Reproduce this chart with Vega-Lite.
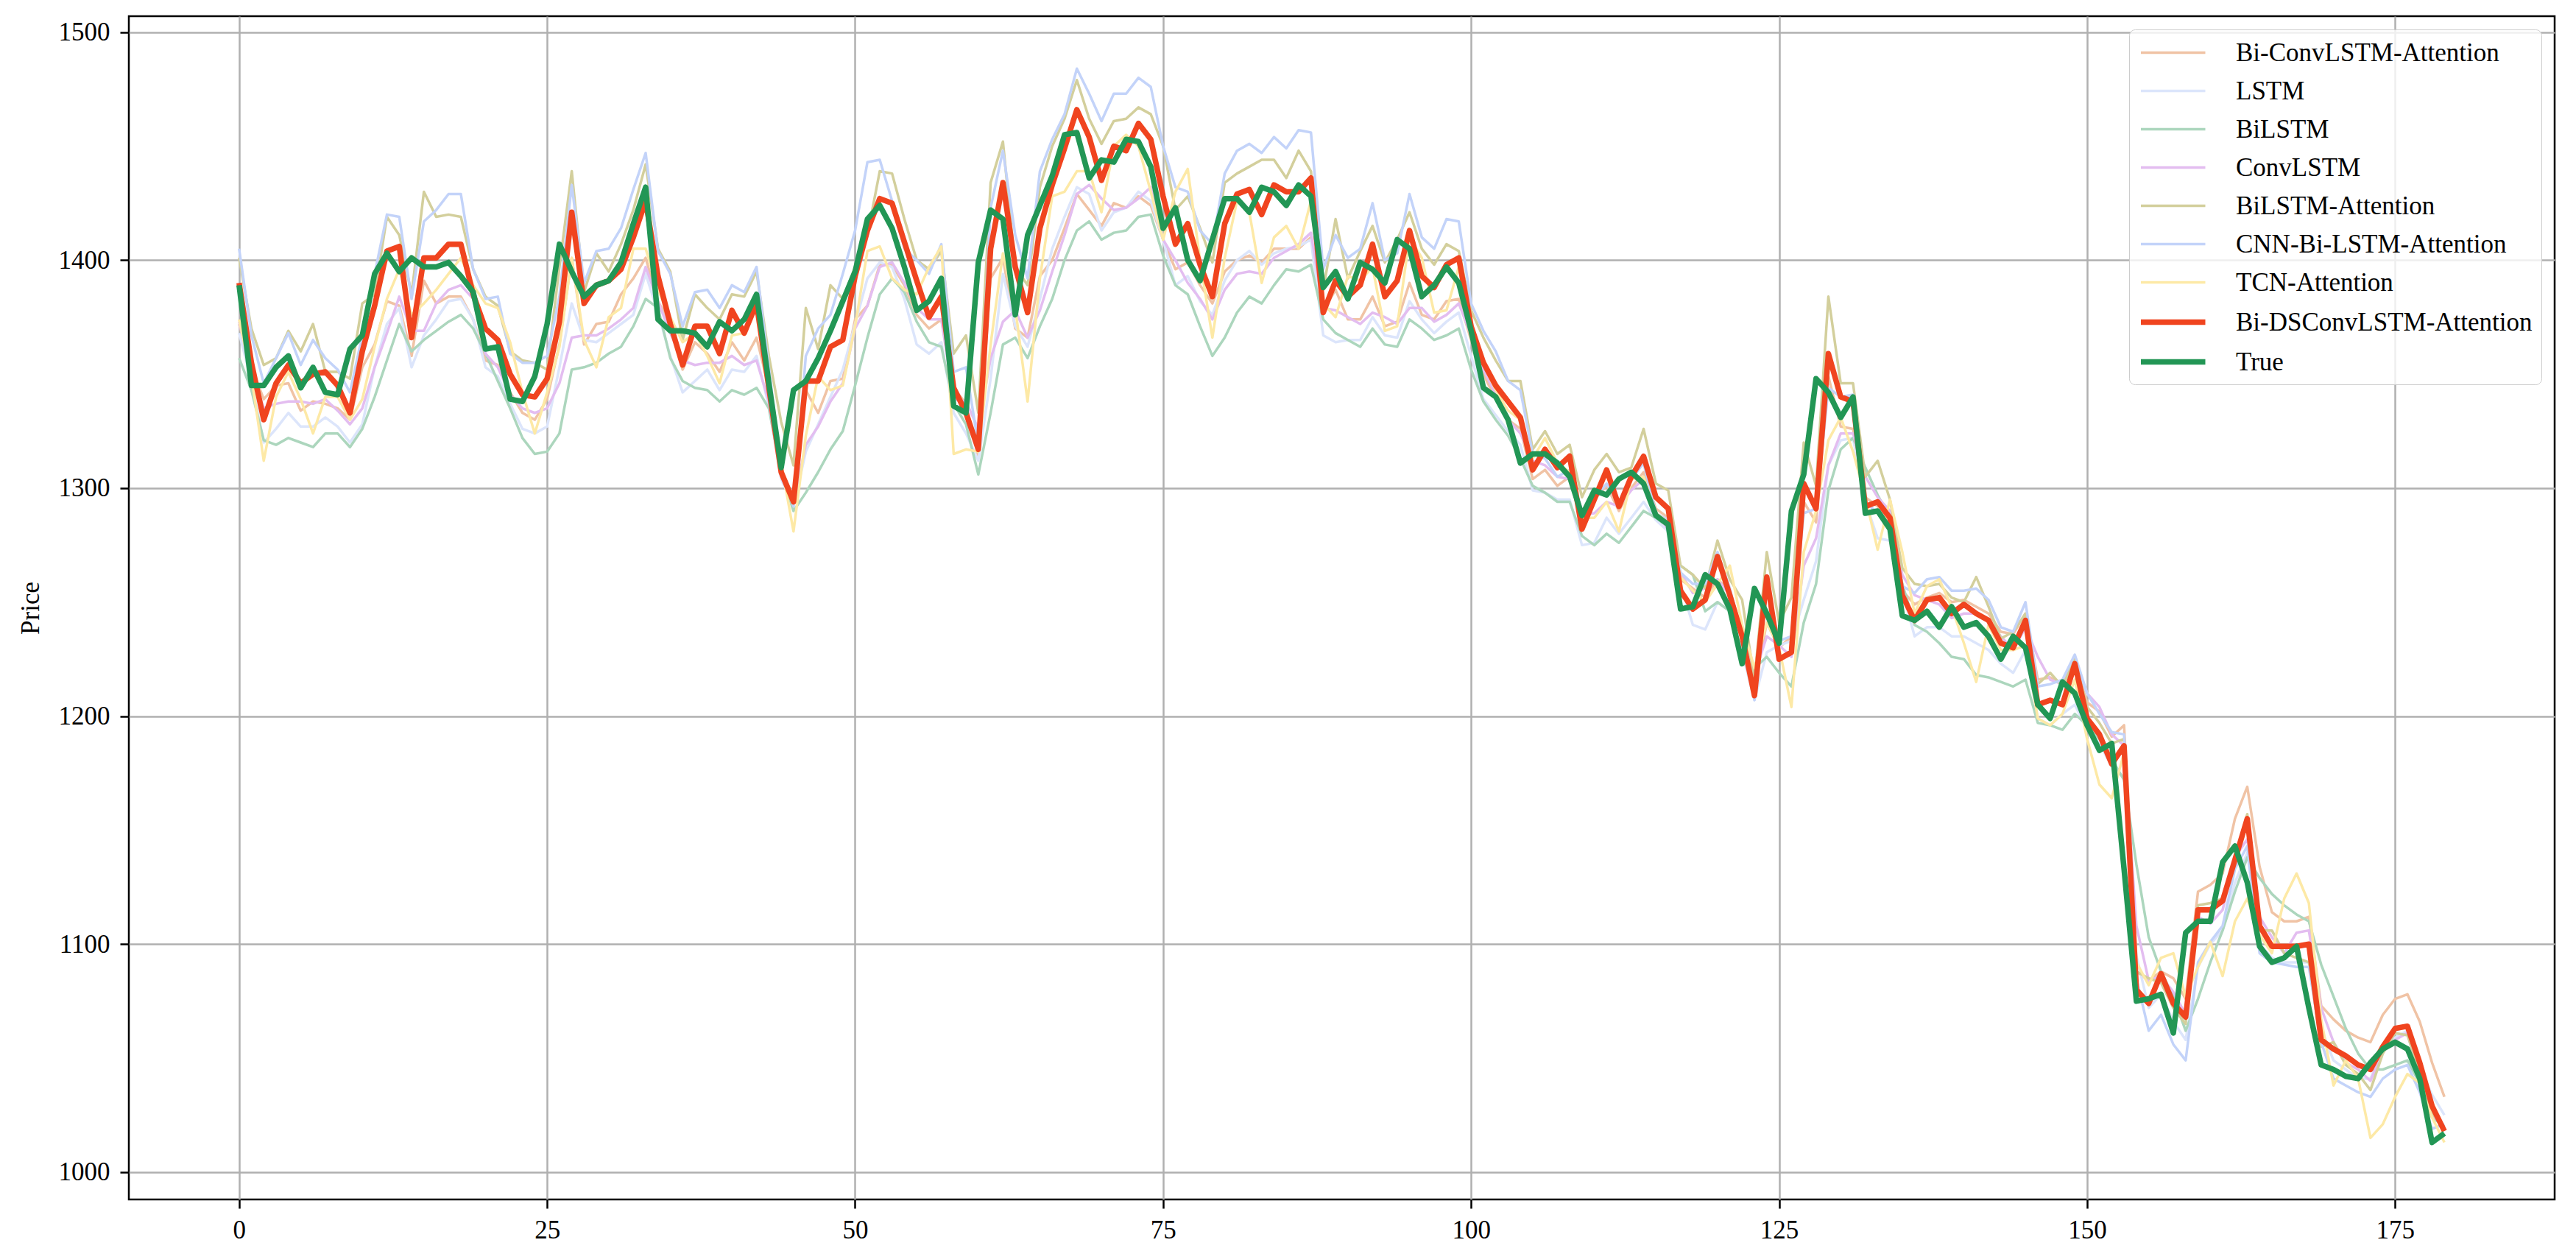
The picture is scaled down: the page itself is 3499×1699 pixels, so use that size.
{
"$schema": "https://vega.github.io/schema/vega-lite/v6.json",
"width": 3295, "height": 1607,
"autosize": {"type": "none"},
"padding": {"left": 175, "top": 22, "right": 29, "bottom": 70},
"background": "white",
"config": {
  "font": "Liberation Serif",
  "view": {"stroke": "black", "strokeWidth": 2.5},
  "axis": {"domain": false, "grid": true, "gridColor": "#b0b0b0", "gridWidth": 2.5, "tickColor": "black", "tickWidth": 2.5, "tickSize": 12, "labelFont": "Liberation Serif", "labelFontSize": 35, "labelColor": "black", "labelPadding": 12, "titleFont": "Liberation Serif", "titleFontSize": 35, "titleFontWeight": "normal", "titleColor": "black"},
  "legend": {"orient": "top-right", "offset": 18, "fillColor": "rgba(255,255,255,0.8)", "strokeColor": "#cccccc", "cornerRadius": 8, "padding": 12, "symbolType": "M -1 0 L 4 0", "symbolSize": 1225, "labelFont": "Liberation Serif", "labelFontSize": 35, "labelColor": "black", "rowPadding": 14, "labelOffset": 90, "labelLimit": 1000}
},
"data": {"values": [
{"i":0,"Bi-ConvLSTM-Attention":1372,"LSTM":1368,"BiLSTM":1357,"ConvLSTM":1373,"BiLSTM-Attention":1401,"CNN-Bi-LSTM-Attention":1405,"TCN-Attention":1374,"Bi-DSConvLSTM-Attention":1390,"True":1389},
{"i":1,"Bi-ConvLSTM-Attention":1353,"LSTM":1347,"BiLSTM":1343,"ConvLSTM":1351,"BiLSTM-Attention":1370,"CNN-Bi-LSTM-Attention":1367,"TCN-Attention":1349,"Bi-DSConvLSTM-Attention":1355,"True":1345},
{"i":2,"Bi-ConvLSTM-Attention":1339,"LSTM":1320,"BiLSTM":1321,"ConvLSTM":1335,"BiLSTM-Attention":1354,"CNN-Bi-LSTM-Attention":1346,"TCN-Attention":1312,"Bi-DSConvLSTM-Attention":1330,"True":1345},
{"i":3,"Bi-ConvLSTM-Attention":1345,"LSTM":1326,"BiLSTM":1319,"ConvLSTM":1337,"BiLSTM-Attention":1357,"CNN-Bi-LSTM-Attention":1357,"TCN-Attention":1340,"Bi-DSConvLSTM-Attention":1346,"True":1353},
{"i":4,"Bi-ConvLSTM-Attention":1346,"LSTM":1333,"BiLSTM":1322,"ConvLSTM":1338,"BiLSTM-Attention":1369,"CNN-Bi-LSTM-Attention":1368,"TCN-Attention":1351,"Bi-DSConvLSTM-Attention":1354,"True":1358},
{"i":5,"Bi-ConvLSTM-Attention":1334,"LSTM":1327,"BiLSTM":1320,"ConvLSTM":1338,"BiLSTM-Attention":1360,"CNN-Bi-LSTM-Attention":1354,"TCN-Attention":1339,"Bi-DSConvLSTM-Attention":1346,"True":1344},
{"i":6,"Bi-ConvLSTM-Attention":1338,"LSTM":1327,"BiLSTM":1318,"ConvLSTM":1337,"BiLSTM-Attention":1372,"CNN-Bi-LSTM-Attention":1365,"TCN-Attention":1324,"Bi-DSConvLSTM-Attention":1350,"True":1353},
{"i":7,"Bi-ConvLSTM-Attention":1337,"LSTM":1331,"BiLSTM":1324,"ConvLSTM":1339,"BiLSTM-Attention":1351,"CNN-Bi-LSTM-Attention":1357,"TCN-Attention":1340,"Bi-DSConvLSTM-Attention":1351,"True":1342},
{"i":8,"Bi-ConvLSTM-Attention":1335,"LSTM":1327,"BiLSTM":1324,"ConvLSTM":1334,"BiLSTM-Attention":1351,"CNN-Bi-LSTM-Attention":1352,"TCN-Attention":1340,"Bi-DSConvLSTM-Attention":1345,"True":1341},
{"i":9,"Bi-ConvLSTM-Attention":1330,"LSTM":1320,"BiLSTM":1318,"ConvLSTM":1328,"BiLSTM-Attention":1348,"CNN-Bi-LSTM-Attention":1342,"TCN-Attention":1330,"Bi-DSConvLSTM-Attention":1333,"True":1361},
{"i":10,"Bi-ConvLSTM-Attention":1353,"LSTM":1328,"BiLSTM":1326,"ConvLSTM":1335,"BiLSTM-Attention":1381,"CNN-Bi-LSTM-Attention":1367,"TCN-Attention":1339,"Bi-DSConvLSTM-Attention":1360,"True":1367},
{"i":11,"Bi-ConvLSTM-Attention":1363,"LSTM":1353,"BiLSTM":1340,"ConvLSTM":1353,"BiLSTM-Attention":1385,"CNN-Bi-LSTM-Attention":1394,"TCN-Attention":1362,"Bi-DSConvLSTM-Attention":1380,"True":1394},
{"i":12,"Bi-ConvLSTM-Attention":1382,"LSTM":1372,"BiLSTM":1356,"ConvLSTM":1368,"BiLSTM-Attention":1419,"CNN-Bi-LSTM-Attention":1420,"TCN-Attention":1383,"Bi-DSConvLSTM-Attention":1404,"True":1403},
{"i":13,"Bi-ConvLSTM-Attention":1380,"LSTM":1379,"BiLSTM":1372,"ConvLSTM":1384,"BiLSTM-Attention":1411,"CNN-Bi-LSTM-Attention":1419,"TCN-Attention":1396,"Bi-DSConvLSTM-Attention":1406,"True":1395},
{"i":14,"Bi-ConvLSTM-Attention":1358,"LSTM":1353,"BiLSTM":1360,"ConvLSTM":1369,"BiLSTM-Attention":1385,"CNN-Bi-LSTM-Attention":1383,"TCN-Attention":1376,"Bi-DSConvLSTM-Attention":1366,"True":1401},
{"i":15,"Bi-ConvLSTM-Attention":1391,"LSTM":1367,"BiLSTM":1365,"ConvLSTM":1369,"BiLSTM-Attention":1430,"CNN-Bi-LSTM-Attention":1417,"TCN-Attention":1381,"Bi-DSConvLSTM-Attention":1401,"True":1397},
{"i":16,"Bi-ConvLSTM-Attention":1381,"LSTM":1374,"BiLSTM":1369,"ConvLSTM":1381,"BiLSTM-Attention":1419,"CNN-Bi-LSTM-Attention":1422,"TCN-Attention":1387,"Bi-DSConvLSTM-Attention":1401,"True":1397},
{"i":17,"Bi-ConvLSTM-Attention":1384,"LSTM":1382,"BiLSTM":1373,"ConvLSTM":1387,"BiLSTM-Attention":1420,"CNN-Bi-LSTM-Attention":1429,"TCN-Attention":1394,"Bi-DSConvLSTM-Attention":1407,"True":1399},
{"i":18,"Bi-ConvLSTM-Attention":1384,"LSTM":1383,"BiLSTM":1376,"ConvLSTM":1389,"BiLSTM-Attention":1419,"CNN-Bi-LSTM-Attention":1429,"TCN-Attention":1401,"Bi-DSConvLSTM-Attention":1407,"True":1393},
{"i":19,"Bi-ConvLSTM-Attention":1374,"LSTM":1374,"BiLSTM":1370,"ConvLSTM":1383,"BiLSTM-Attention":1396,"CNN-Bi-LSTM-Attention":1396,"TCN-Attention":1389,"Bi-DSConvLSTM-Attention":1385,"True":1386},
{"i":20,"Bi-ConvLSTM-Attention":1356,"LSTM":1353,"BiLSTM":1359,"ConvLSTM":1359,"BiLSTM-Attention":1384,"CNN-Bi-LSTM-Attention":1383,"TCN-Attention":1381,"Bi-DSConvLSTM-Attention":1370,"True":1361},
{"i":21,"Bi-ConvLSTM-Attention":1354,"LSTM":1349,"BiLSTM":1347,"ConvLSTM":1353,"BiLSTM-Attention":1380,"CNN-Bi-LSTM-Attention":1384,"TCN-Attention":1379,"Bi-DSConvLSTM-Attention":1365,"True":1362},
{"i":22,"Bi-ConvLSTM-Attention":1342,"LSTM":1337,"BiLSTM":1335,"ConvLSTM":1341,"BiLSTM-Attention":1360,"CNN-Bi-LSTM-Attention":1359,"TCN-Attention":1364,"Bi-DSConvLSTM-Attention":1350,"True":1339},
{"i":23,"Bi-ConvLSTM-Attention":1333,"LSTM":1326,"BiLSTM":1322,"ConvLSTM":1335,"BiLSTM-Attention":1356,"CNN-Bi-LSTM-Attention":1355,"TCN-Attention":1342,"Bi-DSConvLSTM-Attention":1341,"True":1338},
{"i":24,"Bi-ConvLSTM-Attention":1330,"LSTM":1324,"BiLSTM":1315,"ConvLSTM":1333,"BiLSTM-Attention":1355,"CNN-Bi-LSTM-Attention":1355,"TCN-Attention":1324,"Bi-DSConvLSTM-Attention":1340,"True":1349},
{"i":25,"Bi-ConvLSTM-Attention":1339,"LSTM":1327,"BiLSTM":1316,"ConvLSTM":1335,"BiLSTM-Attention":1352,"CNN-Bi-LSTM-Attention":1358,"TCN-Attention":1342,"Bi-DSConvLSTM-Attention":1348,"True":1372},
{"i":26,"Bi-ConvLSTM-Attention":1363,"LSTM":1353,"BiLSTM":1324,"ConvLSTM":1346,"BiLSTM-Attention":1397,"CNN-Bi-LSTM-Attention":1384,"TCN-Attention":1362,"Bi-DSConvLSTM-Attention":1373,"True":1407},
{"i":27,"Bi-ConvLSTM-Attention":1401,"LSTM":1381,"BiLSTM":1352,"ConvLSTM":1366,"BiLSTM-Attention":1439,"CNN-Bi-LSTM-Attention":1433,"TCN-Attention":1401,"Bi-DSConvLSTM-Attention":1421,"True":1395},
{"i":28,"Bi-ConvLSTM-Attention":1363,"LSTM":1365,"BiLSTM":1353,"ConvLSTM":1367,"BiLSTM-Attention":1386,"CNN-Bi-LSTM-Attention":1390,"TCN-Attention":1365,"Bi-DSConvLSTM-Attention":1381,"True":1384},
{"i":29,"Bi-ConvLSTM-Attention":1372,"LSTM":1364,"BiLSTM":1355,"ConvLSTM":1367,"BiLSTM-Attention":1403,"CNN-Bi-LSTM-Attention":1404,"TCN-Attention":1353,"Bi-DSConvLSTM-Attention":1389,"True":1389},
{"i":30,"Bi-ConvLSTM-Attention":1373,"LSTM":1368,"BiLSTM":1359,"ConvLSTM":1370,"BiLSTM-Attention":1395,"CNN-Bi-LSTM-Attention":1405,"TCN-Attention":1375,"Bi-DSConvLSTM-Attention":1391,"True":1391},
{"i":31,"Bi-ConvLSTM-Attention":1385,"LSTM":1372,"BiLSTM":1362,"ConvLSTM":1374,"BiLSTM-Attention":1407,"CNN-Bi-LSTM-Attention":1414,"TCN-Attention":1379,"Bi-DSConvLSTM-Attention":1396,"True":1399},
{"i":32,"Bi-ConvLSTM-Attention":1392,"LSTM":1376,"BiLSTM":1371,"ConvLSTM":1379,"BiLSTM-Attention":1422,"CNN-Bi-LSTM-Attention":1431,"TCN-Attention":1405,"Bi-DSConvLSTM-Attention":1410,"True":1416},
{"i":33,"Bi-ConvLSTM-Attention":1401,"LSTM":1394,"BiLSTM":1383,"ConvLSTM":1397,"BiLSTM-Attention":1442,"CNN-Bi-LSTM-Attention":1447,"TCN-Attention":1405,"Bi-DSConvLSTM-Attention":1426,"True":1432},
{"i":34,"Bi-ConvLSTM-Attention":1382,"LSTM":1377,"BiLSTM":1379,"ConvLSTM":1382,"BiLSTM-Attention":1405,"CNN-Bi-LSTM-Attention":1404,"TCN-Attention":1387,"Bi-DSConvLSTM-Attention":1393,"True":1374},
{"i":35,"Bi-ConvLSTM-Attention":1372,"LSTM":1358,"BiLSTM":1357,"ConvLSTM":1368,"BiLSTM-Attention":1395,"CNN-Bi-LSTM-Attention":1394,"TCN-Attention":1375,"Bi-DSConvLSTM-Attention":1372,"True":1369},
{"i":36,"Bi-ConvLSTM-Attention":1352,"LSTM":1342,"BiLSTM":1347,"ConvLSTM":1356,"BiLSTM-Attention":1365,"CNN-Bi-LSTM-Attention":1371,"TCN-Attention":1364,"Bi-DSConvLSTM-Attention":1354,"True":1369},
{"i":37,"Bi-ConvLSTM-Attention":1364,"LSTM":1347,"BiLSTM":1344,"ConvLSTM":1354,"BiLSTM-Attention":1385,"CNN-Bi-LSTM-Attention":1386,"TCN-Attention":1368,"Bi-DSConvLSTM-Attention":1371,"True":1368},
{"i":38,"Bi-ConvLSTM-Attention":1359,"LSTM":1352,"BiLSTM":1343,"ConvLSTM":1355,"BiLSTM-Attention":1379,"CNN-Bi-LSTM-Attention":1387,"TCN-Attention":1358,"Bi-DSConvLSTM-Attention":1371,"True":1362},
{"i":39,"Bi-ConvLSTM-Attention":1351,"LSTM":1343,"BiLSTM":1338,"ConvLSTM":1355,"BiLSTM-Attention":1374,"CNN-Bi-LSTM-Attention":1379,"TCN-Attention":1346,"Bi-DSConvLSTM-Attention":1359,"True":1373},
{"i":40,"Bi-ConvLSTM-Attention":1364,"LSTM":1352,"BiLSTM":1343,"ConvLSTM":1358,"BiLSTM-Attention":1385,"CNN-Bi-LSTM-Attention":1389,"TCN-Attention":1367,"Bi-DSConvLSTM-Attention":1378,"True":1369},
{"i":41,"Bi-ConvLSTM-Attention":1356,"LSTM":1351,"BiLSTM":1341,"ConvLSTM":1354,"BiLSTM-Attention":1384,"CNN-Bi-LSTM-Attention":1386,"TCN-Attention":1368,"Bi-DSConvLSTM-Attention":1368,"True":1374},
{"i":42,"Bi-ConvLSTM-Attention":1366,"LSTM":1358,"BiLSTM":1344,"ConvLSTM":1356,"BiLSTM-Attention":1395,"CNN-Bi-LSTM-Attention":1397,"TCN-Attention":1385,"Bi-DSConvLSTM-Attention":1381,"True":1385},
{"i":43,"Bi-ConvLSTM-Attention":1344,"LSTM":1336,"BiLSTM":1335,"ConvLSTM":1338,"BiLSTM-Attention":1358,"CNN-Bi-LSTM-Attention":1353,"TCN-Attention":1342,"Bi-DSConvLSTM-Attention":1344,"True":1346},
{"i":44,"Bi-ConvLSTM-Attention":1308,"LSTM":1304,"BiLSTM":1307,"ConvLSTM":1305,"BiLSTM-Attention":1329,"CNN-Bi-LSTM-Attention":1309,"TCN-Attention":1311,"Bi-DSConvLSTM-Attention":1307,"True":1309},
{"i":45,"Bi-ConvLSTM-Attention":1296,"LSTM":1292,"BiLSTM":1290,"ConvLSTM":1294,"BiLSTM-Attention":1310,"CNN-Bi-LSTM-Attention":1292,"TCN-Attention":1281,"Bi-DSConvLSTM-Attention":1294,"True":1343},
{"i":46,"Bi-ConvLSTM-Attention":1343,"LSTM":1316,"BiLSTM":1298,"ConvLSTM":1319,"BiLSTM-Attention":1379,"CNN-Bi-LSTM-Attention":1358,"TCN-Attention":1323,"Bi-DSConvLSTM-Attention":1347,"True":1347},
{"i":47,"Bi-ConvLSTM-Attention":1333,"LSTM":1328,"BiLSTM":1307,"ConvLSTM":1327,"BiLSTM-Attention":1361,"CNN-Bi-LSTM-Attention":1370,"TCN-Attention":1349,"Bi-DSConvLSTM-Attention":1347,"True":1357},
{"i":48,"Bi-ConvLSTM-Attention":1347,"LSTM":1340,"BiLSTM":1317,"ConvLSTM":1338,"BiLSTM-Attention":1389,"CNN-Bi-LSTM-Attention":1376,"TCN-Attention":1343,"Bi-DSConvLSTM-Attention":1362,"True":1369},
{"i":49,"Bi-ConvLSTM-Attention":1348,"LSTM":1352,"BiLSTM":1325,"ConvLSTM":1346,"BiLSTM-Attention":1383,"CNN-Bi-LSTM-Attention":1394,"TCN-Attention":1345,"Bi-DSConvLSTM-Attention":1365,"True":1382},
{"i":50,"Bi-ConvLSTM-Attention":1374,"LSTM":1372,"BiLSTM":1345,"ConvLSTM":1370,"BiLSTM-Attention":1397,"CNN-Bi-LSTM-Attention":1413,"TCN-Attention":1371,"Bi-DSConvLSTM-Attention":1393,"True":1395},
{"i":51,"Bi-ConvLSTM-Attention":1380,"LSTM":1392,"BiLSTM":1366,"ConvLSTM":1380,"BiLSTM-Attention":1411,"CNN-Bi-LSTM-Attention":1443,"TCN-Attention":1404,"Bi-DSConvLSTM-Attention":1413,"True":1418},
{"i":52,"Bi-ConvLSTM-Attention":1398,"LSTM":1399,"BiLSTM":1385,"ConvLSTM":1397,"BiLSTM-Attention":1439,"CNN-Bi-LSTM-Attention":1444,"TCN-Attention":1406,"Bi-DSConvLSTM-Attention":1427,"True":1424},
{"i":53,"Bi-ConvLSTM-Attention":1398,"LSTM":1397,"BiLSTM":1392,"ConvLSTM":1399,"BiLSTM-Attention":1438,"CNN-Bi-LSTM-Attention":1426,"TCN-Attention":1392,"Bi-DSConvLSTM-Attention":1425,"True":1414},
{"i":54,"Bi-ConvLSTM-Attention":1389,"LSTM":1383,"BiLSTM":1386,"ConvLSTM":1390,"BiLSTM-Attention":1418,"CNN-Bi-LSTM-Attention":1405,"TCN-Attention":1387,"Bi-DSConvLSTM-Attention":1408,"True":1397},
{"i":55,"Bi-ConvLSTM-Attention":1376,"LSTM":1363,"BiLSTM":1373,"ConvLSTM":1379,"BiLSTM-Attention":1400,"CNN-Bi-LSTM-Attention":1400,"TCN-Attention":1385,"Bi-DSConvLSTM-Attention":1391,"True":1378},
{"i":56,"Bi-ConvLSTM-Attention":1370,"LSTM":1359,"BiLSTM":1364,"ConvLSTM":1374,"BiLSTM-Attention":1396,"CNN-Bi-LSTM-Attention":1394,"TCN-Attention":1397,"Bi-DSConvLSTM-Attention":1375,"True":1382},
{"i":57,"Bi-ConvLSTM-Attention":1374,"LSTM":1364,"BiLSTM":1362,"ConvLSTM":1374,"BiLSTM-Attention":1404,"CNN-Bi-LSTM-Attention":1407,"TCN-Attention":1406,"Bi-DSConvLSTM-Attention":1384,"True":1392},
{"i":58,"Bi-ConvLSTM-Attention":1344,"LSTM":1333,"BiLSTM":1337,"ConvLSTM":1339,"BiLSTM-Attention":1359,"CNN-Bi-LSTM-Attention":1351,"TCN-Attention":1315,"Bi-DSConvLSTM-Attention":1344,"True":1336},
{"i":59,"Bi-ConvLSTM-Attention":1337,"LSTM":1324,"BiLSTM":1328,"ConvLSTM":1338,"BiLSTM-Attention":1367,"CNN-Bi-LSTM-Attention":1353,"TCN-Attention":1317,"Bi-DSConvLSTM-Attention":1333,"True":1333},
{"i":60,"Bi-ConvLSTM-Attention":1314,"LSTM":1312,"BiLSTM":1306,"ConvLSTM":1326,"BiLSTM-Attention":1333,"CNN-Bi-LSTM-Attention":1319,"TCN-Attention":1316,"Bi-DSConvLSTM-Attention":1317,"True":1399},
{"i":61,"Bi-ConvLSTM-Attention":1392,"LSTM":1348,"BiLSTM":1333,"ConvLSTM":1357,"BiLSTM-Attention":1434,"CNN-Bi-LSTM-Attention":1423,"TCN-Attention":1363,"Bi-DSConvLSTM-Attention":1405,"True":1422},
{"i":62,"Bi-ConvLSTM-Attention":1401,"LSTM":1394,"BiLSTM":1363,"ConvLSTM":1373,"BiLSTM-Attention":1452,"CNN-Bi-LSTM-Attention":1448,"TCN-Attention":1403,"Bi-DSConvLSTM-Attention":1434,"True":1418},
{"i":63,"Bi-ConvLSTM-Attention":1370,"LSTM":1371,"BiLSTM":1366,"ConvLSTM":1378,"BiLSTM-Attention":1397,"CNN-Bi-LSTM-Attention":1411,"TCN-Attention":1379,"Bi-DSConvLSTM-Attention":1397,"True":1376},
{"i":64,"Bi-ConvLSTM-Attention":1366,"LSTM":1362,"BiLSTM":1357,"ConvLSTM":1366,"BiLSTM-Attention":1389,"CNN-Bi-LSTM-Attention":1392,"TCN-Attention":1338,"Bi-DSConvLSTM-Attention":1377,"True":1411},
{"i":65,"Bi-ConvLSTM-Attention":1393,"LSTM":1383,"BiLSTM":1371,"ConvLSTM":1378,"BiLSTM-Attention":1432,"CNN-Bi-LSTM-Attention":1439,"TCN-Attention":1392,"Bi-DSConvLSTM-Attention":1414,"True":1424},
{"i":66,"Bi-ConvLSTM-Attention":1400,"LSTM":1405,"BiLSTM":1383,"ConvLSTM":1395,"BiLSTM-Attention":1450,"CNN-Bi-LSTM-Attention":1453,"TCN-Attention":1428,"Bi-DSConvLSTM-Attention":1433,"True":1437},
{"i":67,"Bi-ConvLSTM-Attention":1414,"LSTM":1419,"BiLSTM":1400,"ConvLSTM":1411,"BiLSTM-Attention":1462,"CNN-Bi-LSTM-Attention":1464,"TCN-Attention":1430,"Bi-DSConvLSTM-Attention":1449,"True":1455},
{"i":68,"Bi-ConvLSTM-Attention":1429,"LSTM":1432,"BiLSTM":1413,"ConvLSTM":1429,"BiLSTM-Attention":1479,"CNN-Bi-LSTM-Attention":1484,"TCN-Attention":1439,"Bi-DSConvLSTM-Attention":1466,"True":1456},
{"i":69,"Bi-ConvLSTM-Attention":1422,"LSTM":1429,"BiLSTM":1417,"ConvLSTM":1433,"BiLSTM-Attention":1462,"CNN-Bi-LSTM-Attention":1473,"TCN-Attention":1439,"Bi-DSConvLSTM-Attention":1454,"True":1436},
{"i":70,"Bi-ConvLSTM-Attention":1415,"LSTM":1413,"BiLSTM":1409,"ConvLSTM":1427,"BiLSTM-Attention":1451,"CNN-Bi-LSTM-Attention":1461,"TCN-Attention":1421,"Bi-DSConvLSTM-Attention":1435,"True":1444},
{"i":71,"Bi-ConvLSTM-Attention":1425,"LSTM":1421,"BiLSTM":1412,"ConvLSTM":1422,"BiLSTM-Attention":1461,"CNN-Bi-LSTM-Attention":1473,"TCN-Attention":1450,"Bi-DSConvLSTM-Attention":1450,"True":1443},
{"i":72,"Bi-ConvLSTM-Attention":1423,"LSTM":1423,"BiLSTM":1413,"ConvLSTM":1423,"BiLSTM-Attention":1462,"CNN-Bi-LSTM-Attention":1473,"TCN-Attention":1455,"Bi-DSConvLSTM-Attention":1448,"True":1453},
{"i":73,"Bi-ConvLSTM-Attention":1428,"LSTM":1430,"BiLSTM":1419,"ConvLSTM":1427,"BiLSTM-Attention":1467,"CNN-Bi-LSTM-Attention":1480,"TCN-Attention":1450,"Bi-DSConvLSTM-Attention":1460,"True":1452},
{"i":74,"Bi-ConvLSTM-Attention":1424,"LSTM":1426,"BiLSTM":1420,"ConvLSTM":1432,"BiLSTM-Attention":1464,"CNN-Bi-LSTM-Attention":1476,"TCN-Attention":1430,"Bi-DSConvLSTM-Attention":1453,"True":1441},
{"i":75,"Bi-ConvLSTM-Attention":1409,"LSTM":1409,"BiLSTM":1402,"ConvLSTM":1409,"BiLSTM-Attention":1450,"CNN-Bi-LSTM-Attention":1450,"TCN-Attention":1409,"Bi-DSConvLSTM-Attention":1428,"True":1414},
{"i":76,"Bi-ConvLSTM-Attention":1396,"LSTM":1389,"BiLSTM":1389,"ConvLSTM":1400,"BiLSTM-Attention":1422,"CNN-Bi-LSTM-Attention":1432,"TCN-Attention":1430,"Bi-DSConvLSTM-Attention":1407,"True":1423},
{"i":77,"Bi-ConvLSTM-Attention":1399,"LSTM":1393,"BiLSTM":1385,"ConvLSTM":1390,"BiLSTM-Attention":1428,"CNN-Bi-LSTM-Attention":1430,"TCN-Attention":1440,"Bi-DSConvLSTM-Attention":1416,"True":1400},
{"i":78,"Bi-ConvLSTM-Attention":1389,"LSTM":1382,"BiLSTM":1371,"ConvLSTM":1383,"BiLSTM-Attention":1414,"CNN-Bi-LSTM-Attention":1413,"TCN-Attention":1400,"Bi-DSConvLSTM-Attention":1398,"True":1391},
{"i":79,"Bi-ConvLSTM-Attention":1381,"LSTM":1376,"BiLSTM":1358,"ConvLSTM":1374,"BiLSTM-Attention":1399,"CNN-Bi-LSTM-Attention":1407,"TCN-Attention":1366,"Bi-DSConvLSTM-Attention":1384,"True":1409},
{"i":80,"Bi-ConvLSTM-Attention":1395,"LSTM":1391,"BiLSTM":1366,"ConvLSTM":1387,"BiLSTM-Attention":1434,"CNN-Bi-LSTM-Attention":1438,"TCN-Attention":1401,"Bi-DSConvLSTM-Attention":1416,"True":1427},
{"i":81,"Bi-ConvLSTM-Attention":1400,"LSTM":1400,"BiLSTM":1377,"ConvLSTM":1394,"BiLSTM-Attention":1438,"CNN-Bi-LSTM-Attention":1448,"TCN-Attention":1426,"Bi-DSConvLSTM-Attention":1429,"True":1427},
{"i":82,"Bi-ConvLSTM-Attention":1402,"LSTM":1404,"BiLSTM":1384,"ConvLSTM":1395,"BiLSTM-Attention":1441,"CNN-Bi-LSTM-Attention":1451,"TCN-Attention":1421,"Bi-DSConvLSTM-Attention":1431,"True":1421},
{"i":83,"Bi-ConvLSTM-Attention":1399,"LSTM":1398,"BiLSTM":1381,"ConvLSTM":1394,"BiLSTM-Attention":1444,"CNN-Bi-LSTM-Attention":1447,"TCN-Attention":1390,"Bi-DSConvLSTM-Attention":1420,"True":1432},
{"i":84,"Bi-ConvLSTM-Attention":1405,"LSTM":1403,"BiLSTM":1389,"ConvLSTM":1401,"BiLSTM-Attention":1444,"CNN-Bi-LSTM-Attention":1454,"TCN-Attention":1410,"Bi-DSConvLSTM-Attention":1433,"True":1430},
{"i":85,"Bi-ConvLSTM-Attention":1405,"LSTM":1405,"BiLSTM":1396,"ConvLSTM":1404,"BiLSTM-Attention":1436,"CNN-Bi-LSTM-Attention":1449,"TCN-Attention":1415,"Bi-DSConvLSTM-Attention":1430,"True":1424},
{"i":86,"Bi-ConvLSTM-Attention":1405,"LSTM":1406,"BiLSTM":1395,"ConvLSTM":1407,"BiLSTM-Attention":1448,"CNN-Bi-LSTM-Attention":1457,"TCN-Attention":1405,"Bi-DSConvLSTM-Attention":1430,"True":1433},
{"i":87,"Bi-ConvLSTM-Attention":1410,"LSTM":1409,"BiLSTM":1398,"ConvLSTM":1412,"BiLSTM-Attention":1439,"CNN-Bi-LSTM-Attention":1456,"TCN-Attention":1426,"Bi-DSConvLSTM-Attention":1436,"True":1428},
{"i":88,"Bi-ConvLSTM-Attention":1378,"LSTM":1367,"BiLSTM":1374,"ConvLSTM":1379,"BiLSTM-Attention":1387,"CNN-Bi-LSTM-Attention":1396,"TCN-Attention":1381,"Bi-DSConvLSTM-Attention":1377,"True":1388},
{"i":89,"Bi-ConvLSTM-Attention":1387,"LSTM":1364,"BiLSTM":1368,"ConvLSTM":1378,"BiLSTM-Attention":1418,"CNN-Bi-LSTM-Attention":1411,"TCN-Attention":1375,"Bi-DSConvLSTM-Attention":1391,"True":1395},
{"i":90,"Bi-ConvLSTM-Attention":1374,"LSTM":1365,"BiLSTM":1365,"ConvLSTM":1375,"BiLSTM-Attention":1392,"CNN-Bi-LSTM-Attention":1401,"TCN-Attention":1393,"Bi-DSConvLSTM-Attention":1384,"True":1383},
{"i":91,"Bi-ConvLSTM-Attention":1374,"LSTM":1365,"BiLSTM":1362,"ConvLSTM":1372,"BiLSTM-Attention":1404,"CNN-Bi-LSTM-Attention":1405,"TCN-Attention":1391,"Bi-DSConvLSTM-Attention":1389,"True":1399},
{"i":92,"Bi-ConvLSTM-Attention":1384,"LSTM":1375,"BiLSTM":1370,"ConvLSTM":1377,"BiLSTM-Attention":1415,"CNN-Bi-LSTM-Attention":1425,"TCN-Attention":1397,"Bi-DSConvLSTM-Attention":1407,"True":1396},
{"i":93,"Bi-ConvLSTM-Attention":1371,"LSTM":1367,"BiLSTM":1363,"ConvLSTM":1375,"BiLSTM-Attention":1399,"CNN-Bi-LSTM-Attention":1400,"TCN-Attention":1369,"Bi-DSConvLSTM-Attention":1384,"True":1390},
{"i":94,"Bi-ConvLSTM-Attention":1373,"LSTM":1366,"BiLSTM":1362,"ConvLSTM":1372,"BiLSTM-Attention":1409,"CNN-Bi-LSTM-Attention":1403,"TCN-Attention":1371,"Bi-DSConvLSTM-Attention":1391,"True":1409},
{"i":95,"Bi-ConvLSTM-Attention":1390,"LSTM":1382,"BiLSTM":1374,"ConvLSTM":1379,"BiLSTM-Attention":1421,"CNN-Bi-LSTM-Attention":1429,"TCN-Attention":1410,"Bi-DSConvLSTM-Attention":1413,"True":1405},
{"i":96,"Bi-ConvLSTM-Attention":1376,"LSTM":1374,"BiLSTM":1370,"ConvLSTM":1379,"BiLSTM-Attention":1405,"CNN-Bi-LSTM-Attention":1410,"TCN-Attention":1401,"Bi-DSConvLSTM-Attention":1393,"True":1384},
{"i":97,"Bi-ConvLSTM-Attention":1374,"LSTM":1368,"BiLSTM":1365,"ConvLSTM":1373,"BiLSTM-Attention":1398,"CNN-Bi-LSTM-Attention":1405,"TCN-Attention":1377,"Bi-DSConvLSTM-Attention":1388,"True":1389},
{"i":98,"Bi-ConvLSTM-Attention":1382,"LSTM":1373,"BiLSTM":1367,"ConvLSTM":1376,"BiLSTM-Attention":1407,"CNN-Bi-LSTM-Attention":1418,"TCN-Attention":1378,"Bi-DSConvLSTM-Attention":1398,"True":1397},
{"i":99,"Bi-ConvLSTM-Attention":1383,"LSTM":1377,"BiLSTM":1370,"ConvLSTM":1381,"BiLSTM-Attention":1404,"CNN-Bi-LSTM-Attention":1417,"TCN-Attention":1397,"Bi-DSConvLSTM-Attention":1401,"True":1390},
{"i":100,"Bi-ConvLSTM-Attention":1365,"LSTM":1358,"BiLSTM":1352,"ConvLSTM":1367,"BiLSTM-Attention":1378,"CNN-Bi-LSTM-Attention":1381,"TCN-Attention":1370,"Bi-DSConvLSTM-Attention":1371,"True":1369},
{"i":101,"Bi-ConvLSTM-Attention":1350,"LSTM":1339,"BiLSTM":1338,"ConvLSTM":1352,"BiLSTM-Attention":1366,"CNN-Bi-LSTM-Attention":1369,"TCN-Attention":1354,"Bi-DSConvLSTM-Attention":1355,"True":1344},
{"i":102,"Bi-ConvLSTM-Attention":1339,"LSTM":1332,"BiLSTM":1330,"ConvLSTM":1341,"BiLSTM-Attention":1356,"CNN-Bi-LSTM-Attention":1360,"TCN-Attention":1343,"Bi-DSConvLSTM-Attention":1345,"True":1340},
{"i":103,"Bi-ConvLSTM-Attention":1330,"LSTM":1325,"BiLSTM":1323,"ConvLSTM":1330,"BiLSTM-Attention":1347,"CNN-Bi-LSTM-Attention":1347,"TCN-Attention":1334,"Bi-DSConvLSTM-Attention":1338,"True":1330},
{"i":104,"Bi-ConvLSTM-Attention":1326,"LSTM":1319,"BiLSTM":1313,"ConvLSTM":1324,"BiLSTM-Attention":1347,"CNN-Bi-LSTM-Attention":1343,"TCN-Attention":1330,"Bi-DSConvLSTM-Attention":1331,"True":1311},
{"i":105,"Bi-ConvLSTM-Attention":1304,"LSTM":1299,"BiLSTM":1301,"ConvLSTM":1312,"BiLSTM-Attention":1317,"CNN-Bi-LSTM-Attention":1315,"TCN-Attention":1313,"Bi-DSConvLSTM-Attention":1308,"True":1315},
{"i":106,"Bi-ConvLSTM-Attention":1308,"LSTM":1298,"BiLSTM":1298,"ConvLSTM":1310,"BiLSTM-Attention":1325,"CNN-Bi-LSTM-Attention":1313,"TCN-Attention":1322,"Bi-DSConvLSTM-Attention":1317,"True":1315},
{"i":107,"Bi-ConvLSTM-Attention":1301,"LSTM":1295,"BiLSTM":1294,"ConvLSTM":1305,"BiLSTM-Attention":1315,"CNN-Bi-LSTM-Attention":1305,"TCN-Attention":1311,"Bi-DSConvLSTM-Attention":1309,"True":1311},
{"i":108,"Bi-ConvLSTM-Attention":1305,"LSTM":1295,"BiLSTM":1294,"ConvLSTM":1304,"BiLSTM-Attention":1319,"CNN-Bi-LSTM-Attention":1308,"TCN-Attention":1307,"Bi-DSConvLSTM-Attention":1314,"True":1305},
{"i":109,"Bi-ConvLSTM-Attention":1288,"LSTM":1275,"BiLSTM":1279,"ConvLSTM":1288,"BiLSTM-Attention":1296,"CNN-Bi-LSTM-Attention":1290,"TCN-Attention":1287,"Bi-DSConvLSTM-Attention":1282,"True":1288},
{"i":110,"Bi-ConvLSTM-Attention":1295,"LSTM":1276,"BiLSTM":1275,"ConvLSTM":1289,"BiLSTM-Attention":1308,"CNN-Bi-LSTM-Attention":1295,"TCN-Attention":1287,"Bi-DSConvLSTM-Attention":1295,"True":1299},
{"i":111,"Bi-ConvLSTM-Attention":1301,"LSTM":1287,"BiLSTM":1280,"ConvLSTM":1294,"BiLSTM-Attention":1315,"CNN-Bi-LSTM-Attention":1302,"TCN-Attention":1294,"Bi-DSConvLSTM-Attention":1308,"True":1297},
{"i":112,"Bi-ConvLSTM-Attention":1290,"LSTM":1280,"BiLSTM":1276,"ConvLSTM":1292,"BiLSTM-Attention":1307,"CNN-Bi-LSTM-Attention":1293,"TCN-Attention":1281,"Bi-DSConvLSTM-Attention":1292,"True":1304},
{"i":113,"Bi-ConvLSTM-Attention":1300,"LSTM":1287,"BiLSTM":1283,"ConvLSTM":1299,"BiLSTM-Attention":1309,"CNN-Bi-LSTM-Attention":1304,"TCN-Attention":1304,"Bi-DSConvLSTM-Attention":1305,"True":1307},
{"i":114,"Bi-ConvLSTM-Attention":1307,"LSTM":1294,"BiLSTM":1290,"ConvLSTM":1304,"BiLSTM-Attention":1326,"CNN-Bi-LSTM-Attention":1311,"TCN-Attention":1305,"Bi-DSConvLSTM-Attention":1314,"True":1302},
{"i":115,"Bi-ConvLSTM-Attention":1291,"LSTM":1286,"BiLSTM":1287,"ConvLSTM":1289,"BiLSTM-Attention":1302,"CNN-Bi-LSTM-Attention":1289,"TCN-Attention":1289,"Bi-DSConvLSTM-Attention":1296,"True":1288},
{"i":116,"Bi-ConvLSTM-Attention":1287,"LSTM":1281,"BiLSTM":1283,"ConvLSTM":1282,"BiLSTM-Attention":1299,"CNN-Bi-LSTM-Attention":1286,"TCN-Attention":1285,"Bi-DSConvLSTM-Attention":1291,"True":1284},
{"i":117,"Bi-ConvLSTM-Attention":1260,"LSTM":1258,"BiLSTM":1266,"ConvLSTM":1263,"BiLSTM-Attention":1266,"CNN-Bi-LSTM-Attention":1263,"TCN-Attention":1261,"Bi-DSConvLSTM-Attention":1255,"True":1247},
{"i":118,"Bi-ConvLSTM-Attention":1256,"LSTM":1240,"BiLSTM":1262,"ConvLSTM":1254,"BiLSTM-Attention":1262,"CNN-Bi-LSTM-Attention":1258,"TCN-Attention":1255,"Bi-DSConvLSTM-Attention":1247,"True":1248},
{"i":119,"Bi-ConvLSTM-Attention":1252,"LSTM":1238,"BiLSTM":1246,"ConvLSTM":1256,"BiLSTM-Attention":1256,"CNN-Bi-LSTM-Attention":1258,"TCN-Attention":1250,"Bi-DSConvLSTM-Attention":1251,"True":1262},
{"i":120,"Bi-ConvLSTM-Attention":1260,"LSTM":1250,"BiLSTM":1250,"ConvLSTM":1260,"BiLSTM-Attention":1277,"CNN-Bi-LSTM-Attention":1272,"TCN-Attention":1258,"Bi-DSConvLSTM-Attention":1270,"True":1258},
{"i":121,"Bi-ConvLSTM-Attention":1255,"LSTM":1246,"BiLSTM":1246,"ConvLSTM":1253,"BiLSTM-Attention":1260,"CNN-Bi-LSTM-Attention":1256,"TCN-Attention":1266,"Bi-DSConvLSTM-Attention":1253,"True":1247},
{"i":122,"Bi-ConvLSTM-Attention":1237,"LSTM":1228,"BiLSTM":1237,"ConvLSTM":1233,"BiLSTM-Attention":1251,"CNN-Bi-LSTM-Attention":1235,"TCN-Attention":1240,"Bi-DSConvLSTM-Attention":1235,"True":1223},
{"i":123,"Bi-ConvLSTM-Attention":1213,"LSTM":1207,"BiLSTM":1221,"ConvLSTM":1218,"BiLSTM-Attention":1216,"CNN-Bi-LSTM-Attention":1207,"TCN-Attention":1221,"Bi-DSConvLSTM-Attention":1209,"True":1256},
{"i":124,"Bi-ConvLSTM-Attention":1241,"LSTM":1228,"BiLSTM":1226,"ConvLSTM":1235,"BiLSTM-Attention":1272,"CNN-Bi-LSTM-Attention":1256,"TCN-Attention":1241,"Bi-DSConvLSTM-Attention":1261,"True":1245},
{"i":125,"Bi-ConvLSTM-Attention":1230,"LSTM":1231,"BiLSTM":1219,"ConvLSTM":1231,"BiLSTM-Attention":1241,"CNN-Bi-LSTM-Attention":1233,"TCN-Attention":1230,"Bi-DSConvLSTM-Attention":1225,"True":1232},
{"i":126,"Bi-ConvLSTM-Attention":1235,"LSTM":1233,"BiLSTM":1213,"ConvLSTM":1226,"BiLSTM-Attention":1252,"CNN-Bi-LSTM-Attention":1235,"TCN-Attention":1204,"Bi-DSConvLSTM-Attention":1228,"True":1290},
{"i":127,"Bi-ConvLSTM-Attention":1294,"LSTM":1251,"BiLSTM":1241,"ConvLSTM":1266,"BiLSTM-Attention":1320,"CNN-Bi-LSTM-Attention":1289,"TCN-Attention":1272,"Bi-DSConvLSTM-Attention":1302,"True":1306},
{"i":128,"Bi-ConvLSTM-Attention":1285,"LSTM":1268,"BiLSTM":1258,"ConvLSTM":1278,"BiLSTM-Attention":1301,"CNN-Bi-LSTM-Attention":1291,"TCN-Attention":1290,"Bi-DSConvLSTM-Attention":1291,"True":1348},
{"i":129,"Bi-ConvLSTM-Attention":1349,"LSTM":1310,"BiLSTM":1299,"ConvLSTM":1310,"BiLSTM-Attention":1384,"CNN-Bi-LSTM-Attention":1344,"TCN-Attention":1321,"Bi-DSConvLSTM-Attention":1359,"True":1342},
{"i":130,"Bi-ConvLSTM-Attention":1327,"LSTM":1321,"BiLSTM":1317,"ConvLSTM":1324,"BiLSTM-Attention":1346,"CNN-Bi-LSTM-Attention":1340,"TCN-Attention":1331,"Bi-DSConvLSTM-Attention":1340,"True":1331},
{"i":131,"Bi-ConvLSTM-Attention":1326,"LSTM":1322,"BiLSTM":1322,"ConvLSTM":1324,"BiLSTM-Attention":1346,"CNN-Bi-LSTM-Attention":1341,"TCN-Attention":1316,"Bi-DSConvLSTM-Attention":1338,"True":1340},
{"i":132,"Bi-ConvLSTM-Attention":1296,"LSTM":1294,"BiLSTM":1309,"ConvLSTM":1305,"BiLSTM-Attention":1305,"CNN-Bi-LSTM-Attention":1294,"TCN-Attention":1296,"Bi-DSConvLSTM-Attention":1292,"True":1289},
{"i":133,"Bi-ConvLSTM-Attention":1292,"LSTM":1278,"BiLSTM":1297,"ConvLSTM":1296,"BiLSTM-Attention":1312,"CNN-Bi-LSTM-Attention":1289,"TCN-Attention":1273,"Bi-DSConvLSTM-Attention":1294,"True":1290},
{"i":134,"Bi-ConvLSTM-Attention":1285,"LSTM":1277,"BiLSTM":1287,"ConvLSTM":1290,"BiLSTM-Attention":1295,"CNN-Bi-LSTM-Attention":1283,"TCN-Attention":1295,"Bi-DSConvLSTM-Attention":1287,"True":1282},
{"i":135,"Bi-ConvLSTM-Attention":1255,"LSTM":1255,"BiLSTM":1258,"ConvLSTM":1262,"BiLSTM-Attention":1265,"CNN-Bi-LSTM-Attention":1257,"TCN-Attention":1272,"Bi-DSConvLSTM-Attention":1253,"True":1244},
{"i":136,"Bi-ConvLSTM-Attention":1249,"LSTM":1235,"BiLSTM":1240,"ConvLSTM":1253,"BiLSTM-Attention":1258,"CNN-Bi-LSTM-Attention":1254,"TCN-Attention":1245,"Bi-DSConvLSTM-Attention":1242,"True":1242},
{"i":137,"Bi-ConvLSTM-Attention":1252,"LSTM":1239,"BiLSTM":1237,"ConvLSTM":1251,"BiLSTM-Attention":1257,"CNN-Bi-LSTM-Attention":1260,"TCN-Attention":1257,"Bi-DSConvLSTM-Attention":1251,"True":1246},
{"i":138,"Bi-ConvLSTM-Attention":1254,"LSTM":1239,"BiLSTM":1232,"ConvLSTM":1249,"BiLSTM-Attention":1258,"CNN-Bi-LSTM-Attention":1261,"TCN-Attention":1260,"Bi-DSConvLSTM-Attention":1252,"True":1239},
{"i":139,"Bi-ConvLSTM-Attention":1250,"LSTM":1235,"BiLSTM":1226,"ConvLSTM":1243,"BiLSTM-Attention":1252,"CNN-Bi-LSTM-Attention":1255,"TCN-Attention":1248,"Bi-DSConvLSTM-Attention":1245,"True":1248},
{"i":140,"Bi-ConvLSTM-Attention":1251,"LSTM":1235,"BiLSTM":1225,"ConvLSTM":1245,"BiLSTM-Attention":1250,"CNN-Bi-LSTM-Attention":1255,"TCN-Attention":1232,"Bi-DSConvLSTM-Attention":1249,"True":1239},
{"i":141,"Bi-ConvLSTM-Attention":1248,"LSTM":1232,"BiLSTM":1218,"ConvLSTM":1245,"BiLSTM-Attention":1261,"CNN-Bi-LSTM-Attention":1256,"TCN-Attention":1215,"Bi-DSConvLSTM-Attention":1245,"True":1241},
{"i":142,"Bi-ConvLSTM-Attention":1245,"LSTM":1229,"BiLSTM":1217,"ConvLSTM":1242,"BiLSTM-Attention":1248,"CNN-Bi-LSTM-Attention":1251,"TCN-Attention":1240,"Bi-DSConvLSTM-Attention":1242,"True":1235},
{"i":143,"Bi-ConvLSTM-Attention":1237,"LSTM":1223,"BiLSTM":1215,"ConvLSTM":1235,"BiLSTM-Attention":1234,"CNN-Bi-LSTM-Attention":1239,"TCN-Attention":1229,"Bi-DSConvLSTM-Attention":1232,"True":1225},
{"i":144,"Bi-ConvLSTM-Attention":1236,"LSTM":1219,"BiLSTM":1213,"ConvLSTM":1229,"BiLSTM-Attention":1237,"CNN-Bi-LSTM-Attention":1237,"TCN-Attention":1229,"Bi-DSConvLSTM-Attention":1230,"True":1235},
{"i":145,"Bi-ConvLSTM-Attention":1245,"LSTM":1229,"BiLSTM":1216,"ConvLSTM":1239,"BiLSTM-Attention":1245,"CNN-Bi-LSTM-Attention":1250,"TCN-Attention":1231,"Bi-DSConvLSTM-Attention":1242,"True":1230},
{"i":146,"Bi-ConvLSTM-Attention":1216,"LSTM":1199,"BiLSTM":1197,"ConvLSTM":1226,"BiLSTM-Attention":1214,"CNN-Bi-LSTM-Attention":1213,"TCN-Attention":1199,"Bi-DSConvLSTM-Attention":1205,"True":1205},
{"i":147,"Bi-ConvLSTM-Attention":1217,"LSTM":1196,"BiLSTM":1196,"ConvLSTM":1216,"BiLSTM-Attention":1219,"CNN-Bi-LSTM-Attention":1214,"TCN-Attention":1196,"Bi-DSConvLSTM-Attention":1207,"True":1199},
{"i":148,"Bi-ConvLSTM-Attention":1214,"LSTM":1201,"BiLSTM":1194,"ConvLSTM":1214,"BiLSTM-Attention":1213,"CNN-Bi-LSTM-Attention":1216,"TCN-Attention":1201,"Bi-DSConvLSTM-Attention":1205,"True":1215},
{"i":149,"Bi-ConvLSTM-Attention":1223,"LSTM":1205,"BiLSTM":1201,"ConvLSTM":1225,"BiLSTM-Attention":1225,"CNN-Bi-LSTM-Attention":1227,"TCN-Attention":1216,"Bi-DSConvLSTM-Attention":1223,"True":1210},
{"i":150,"Bi-ConvLSTM-Attention":1206,"LSTM":1194,"BiLSTM":1196,"ConvLSTM":1210,"BiLSTM-Attention":1204,"CNN-Bi-LSTM-Attention":1210,"TCN-Attention":1190,"Bi-DSConvLSTM-Attention":1199,"True":1196},
{"i":151,"Bi-ConvLSTM-Attention":1202,"LSTM":1188,"BiLSTM":1190,"ConvLSTM":1204,"BiLSTM-Attention":1197,"CNN-Bi-LSTM-Attention":1201,"TCN-Attention":1170,"Bi-DSConvLSTM-Attention":1192,"True":1185},
{"i":152,"Bi-ConvLSTM-Attention":1191,"LSTM":1178,"BiLSTM":1181,"ConvLSTM":1192,"BiLSTM-Attention":1188,"CNN-Bi-LSTM-Attention":1193,"TCN-Attention":1164,"Bi-DSConvLSTM-Attention":1179,"True":1188},
{"i":153,"Bi-ConvLSTM-Attention":1196,"LSTM":1173,"BiLSTM":1172,"ConvLSTM":1187,"BiLSTM-Attention":1190,"CNN-Bi-LSTM-Attention":1192,"TCN-Attention":1184,"Bi-DSConvLSTM-Attention":1187,"True":1133},
{"i":154,"Bi-ConvLSTM-Attention":1088,"LSTM":1095,"BiLSTM":1135,"ConvLSTM":1108,"BiLSTM-Attention":1088,"CNN-Bi-LSTM-Attention":1085,"TCN-Attention":1092,"Bi-DSConvLSTM-Attention":1080,"True":1075},
{"i":155,"Bi-ConvLSTM-Attention":1084,"LSTM":1072,"BiLSTM":1103,"ConvLSTM":1084,"BiLSTM-Attention":1085,"CNN-Bi-LSTM-Attention":1062,"TCN-Attention":1082,"Bi-DSConvLSTM-Attention":1074,"True":1076},
{"i":156,"Bi-ConvLSTM-Attention":1088,"LSTM":1078,"BiLSTM":1088,"ConvLSTM":1086,"BiLSTM-Attention":1083,"CNN-Bi-LSTM-Attention":1069,"TCN-Attention":1094,"Bi-DSConvLSTM-Attention":1087,"True":1078},
{"i":157,"Bi-ConvLSTM-Attention":1085,"LSTM":1066,"BiLSTM":1077,"ConvLSTM":1079,"BiLSTM-Attention":1072,"CNN-Bi-LSTM-Attention":1056,"TCN-Attention":1096,"Bi-DSConvLSTM-Attention":1074,"True":1061},
{"i":158,"Bi-ConvLSTM-Attention":1076,"LSTM":1058,"BiLSTM":1062,"ConvLSTM":1069,"BiLSTM-Attention":1065,"CNN-Bi-LSTM-Attention":1049,"TCN-Attention":1077,"Bi-DSConvLSTM-Attention":1068,"True":1105},
{"i":159,"Bi-ConvLSTM-Attention":1123,"LSTM":1090,"BiLSTM":1076,"ConvLSTM":1112,"BiLSTM-Attention":1117,"CNN-Bi-LSTM-Attention":1092,"TCN-Attention":1090,"Bi-DSConvLSTM-Attention":1115,"True":1110},
{"i":160,"Bi-ConvLSTM-Attention":1126,"LSTM":1100,"BiLSTM":1092,"ConvLSTM":1109,"BiLSTM-Attention":1118,"CNN-Bi-LSTM-Attention":1101,"TCN-Attention":1101,"Bi-DSConvLSTM-Attention":1115,"True":1110},
{"i":161,"Bi-ConvLSTM-Attention":1131,"LSTM":1106,"BiLSTM":1106,"ConvLSTM":1115,"BiLSTM-Attention":1120,"CNN-Bi-LSTM-Attention":1108,"TCN-Attention":1086,"Bi-DSConvLSTM-Attention":1119,"True":1136},
{"i":162,"Bi-ConvLSTM-Attention":1155,"LSTM":1127,"BiLSTM":1123,"ConvLSTM":1138,"BiLSTM-Attention":1138,"CNN-Bi-LSTM-Attention":1133,"TCN-Attention":1110,"Bi-DSConvLSTM-Attention":1137,"True":1143},
{"i":163,"Bi-ConvLSTM-Attention":1169,"LSTM":1140,"BiLSTM":1138,"ConvLSTM":1146,"BiLSTM-Attention":1157,"CNN-Bi-LSTM-Attention":1143,"TCN-Attention":1120,"Bi-DSConvLSTM-Attention":1155,"True":1127},
{"i":164,"Bi-ConvLSTM-Attention":1134,"LSTM":1100,"BiLSTM":1129,"ConvLSTM":1112,"BiLSTM-Attention":1106,"CNN-Bi-LSTM-Attention":1096,"TCN-Attention":1104,"Bi-DSConvLSTM-Attention":1108,"True":1099},
{"i":165,"Bi-ConvLSTM-Attention":1114,"LSTM":1094,"BiLSTM":1122,"ConvLSTM":1103,"BiLSTM-Attention":1106,"CNN-Bi-LSTM-Attention":1092,"TCN-Attention":1096,"Bi-DSConvLSTM-Attention":1099,"True":1092},
{"i":166,"Bi-ConvLSTM-Attention":1110,"LSTM":1092,"BiLSTM":1117,"ConvLSTM":1096,"BiLSTM-Attention":1096,"CNN-Bi-LSTM-Attention":1091,"TCN-Attention":1120,"Bi-DSConvLSTM-Attention":1099,"True":1094},
{"i":167,"Bi-ConvLSTM-Attention":1110,"LSTM":1092,"BiLSTM":1113,"ConvLSTM":1105,"BiLSTM-Attention":1094,"CNN-Bi-LSTM-Attention":1090,"TCN-Attention":1131,"Bi-DSConvLSTM-Attention":1099,"True":1099},
{"i":168,"Bi-ConvLSTM-Attention":1112,"LSTM":1092,"BiLSTM":1110,"ConvLSTM":1106,"BiLSTM-Attention":1092,"CNN-Bi-LSTM-Attention":1090,"TCN-Attention":1118,"Bi-DSConvLSTM-Attention":1100,"True":1072},
{"i":169,"Bi-ConvLSTM-Attention":1073,"LSTM":1063,"BiLSTM":1091,"ConvLSTM":1072,"BiLSTM-Attention":1055,"CNN-Bi-LSTM-Attention":1057,"TCN-Attention":1067,"Bi-DSConvLSTM-Attention":1058,"True":1047},
{"i":170,"Bi-ConvLSTM-Attention":1067,"LSTM":1049,"BiLSTM":1077,"ConvLSTM":1057,"BiLSTM-Attention":1057,"CNN-Bi-LSTM-Attention":1041,"TCN-Attention":1038,"Bi-DSConvLSTM-Attention":1054,"True":1045},
{"i":171,"Bi-ConvLSTM-Attention":1062,"LSTM":1045,"BiLSTM":1063,"ConvLSTM":1048,"BiLSTM-Attention":1047,"CNN-Bi-LSTM-Attention":1038,"TCN-Attention":1049,"Bi-DSConvLSTM-Attention":1051,"True":1042},
{"i":172,"Bi-ConvLSTM-Attention":1059,"LSTM":1041,"BiLSTM":1052,"ConvLSTM":1045,"BiLSTM-Attention":1043,"CNN-Bi-LSTM-Attention":1035,"TCN-Attention":1041,"Bi-DSConvLSTM-Attention":1047,"True":1041},
{"i":173,"Bi-ConvLSTM-Attention":1057,"LSTM":1041,"BiLSTM":1045,"ConvLSTM":1040,"BiLSTM-Attention":1036,"CNN-Bi-LSTM-Attention":1033,"TCN-Attention":1015,"Bi-DSConvLSTM-Attention":1045,"True":1048},
{"i":174,"Bi-ConvLSTM-Attention":1069,"LSTM":1054,"BiLSTM":1045,"ConvLSTM":1053,"BiLSTM-Attention":1052,"CNN-Bi-LSTM-Attention":1041,"TCN-Attention":1021,"Bi-DSConvLSTM-Attention":1055,"True":1054},
{"i":175,"Bi-ConvLSTM-Attention":1076,"LSTM":1059,"BiLSTM":1047,"ConvLSTM":1058,"BiLSTM-Attention":1061,"CNN-Bi-LSTM-Attention":1045,"TCN-Attention":1033,"Bi-DSConvLSTM-Attention":1063,"True":1057},
{"i":176,"Bi-ConvLSTM-Attention":1078,"LSTM":1062,"BiLSTM":1049,"ConvLSTM":1061,"BiLSTM-Attention":1060,"CNN-Bi-LSTM-Attention":1047,"TCN-Attention":1043,"Bi-DSConvLSTM-Attention":1064,"True":1054},
{"i":177,"Bi-ConvLSTM-Attention":1066,"LSTM":1045,"BiLSTM":1039,"ConvLSTM":1041,"BiLSTM-Attention":1044,"CNN-Bi-LSTM-Attention":1035,"TCN-Attention":1039,"Bi-DSConvLSTM-Attention":1048,"True":1041},
{"i":178,"Bi-ConvLSTM-Attention":1048,"LSTM":1034,"BiLSTM":1024,"ConvLSTM":1025,"BiLSTM-Attention":1026,"CNN-Bi-LSTM-Attention":1019,"TCN-Attention":1024,"Bi-DSConvLSTM-Attention":1029,"True":1013},
{"i":179,"Bi-ConvLSTM-Attention":1033,"LSTM":1025,"BiLSTM":1020,"ConvLSTM":1020,"BiLSTM-Attention":1019,"CNN-Bi-LSTM-Attention":1021,"TCN-Attention":1013,"Bi-DSConvLSTM-Attention":1018,"True":1017}
]},
"transform": [{"fold": ["Bi-ConvLSTM-Attention","LSTM","BiLSTM","ConvLSTM","BiLSTM-Attention","CNN-Bi-LSTM-Attention","TCN-Attention","Bi-DSConvLSTM-Attention","True"], "as": ["series","price"]}],
"encoding": {
  "x": {"field": "i", "type": "quantitative", "scale": {"domain": [-8.95, 187.95], "nice": false, "zero": false}, "axis": {"title": null, "values": [0,25,50,75,100,125,150,175], "format": "d", "labelPadding": 12}},
  "y": {"field": "price", "type": "quantitative", "scale": {"domain": [988, 1507], "nice": false, "zero": false}, "axis": {"title": "Price", "values": [1000,1100,1200,1300,1400,1500], "format": "d", "labelPadding": 14, "titlePadding": 20}},
  "color": {"field": "series", "type": "ordinal", "sort": null, "scale": {"domain": ["Bi-ConvLSTM-Attention","LSTM","BiLSTM","ConvLSTM","BiLSTM-Attention","CNN-Bi-LSTM-Attention","TCN-Attention","Bi-DSConvLSTM-Attention","True"], "range": ["#f0c3a5","#dce5fb","#acd6bd","#e3bdf0","#d3cf9c","#c3d3f9","#fde9a6","#f0441f","#229655"]}, "legend": {"title": null}},
  "strokeWidth": {"field": "series", "type": "ordinal", "sort": null, "scale": {"type": "ordinal", "domain": ["Bi-ConvLSTM-Attention","LSTM","BiLSTM","ConvLSTM","BiLSTM-Attention","CNN-Bi-LSTM-Attention","TCN-Attention","Bi-DSConvLSTM-Attention","True"], "range": [3.5,3.5,3.5,3.5,3.5,3.5,3.5,7.5,7.5]}, "legend": {"title": null}}
},
"layer": [
  {"transform": [{"filter": {"field": "series", "oneOf": ["Bi-ConvLSTM-Attention","LSTM","BiLSTM","ConvLSTM","BiLSTM-Attention","CNN-Bi-LSTM-Attention","TCN-Attention"]}}], "mark": {"type": "line", "strokeJoin": "round"}},
  {"transform": [{"filter": {"field": "series", "equal": "Bi-DSConvLSTM-Attention"}}], "mark": {"type": "line", "strokeJoin": "round"}},
  {"transform": [{"filter": {"field": "series", "equal": "True"}}], "mark": {"type": "line", "strokeJoin": "round"}}
]
}
